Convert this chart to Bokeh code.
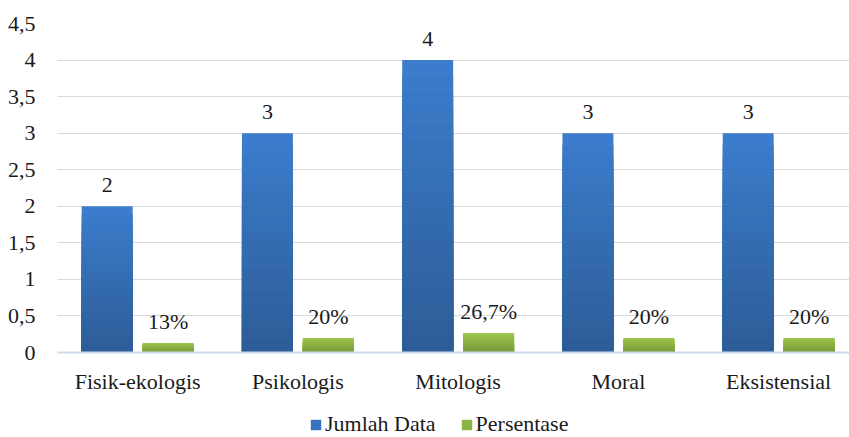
from bokeh.plotting import figure
from bokeh.layouts import column
from bokeh.models import (ColumnDataSource, FixedTicker, CustomJSTickFormatter,
                          Legend, LegendItem, Range1d)
from bokeh.embed import file_html
from bokeh.resources import INLINE
from bokeh.core.properties import value

categories = ["Fisik-ekologis", "Psikologis", "Mitologis", "Moral", "Eksistensial"]
jumlah_data = [2, 3, 4, 3, 3]
persentase = [0.13, 0.20, 0.267, 0.20, 0.20]
jumlah_labels = ["2", "3", "4", "3", "3"]
persentase_labels = ["13%", "20%", "26,7%", "20%", "20%"]
series_names = ["Jumlah Data", "Persentase"]
y_ticks = [0, 0.5, 1, 1.5, 2, 2.5, 3, 3.5, 4, 4.5]
y_tick_labels = ["0", "0,5", "1", "1,5", "2", "2,5", "3", "3,5", "4", "4,5"]

FONT = "Liberation Serif"
FS = "22px"

def lerp_color(c1, c2, t):
    a = [int(c1[i:i + 2], 16) for i in (1, 3, 5)]
    b = [int(c2[i:i + 2], 16) for i in (1, 3, 5)]
    return "#%02x%02x%02x" % tuple(round(a[j] + (b[j] - a[j]) * t) for j in range(3))

def gradient_source(vals, offset, top_color, bottom_color, steps=18):
    xs, tops, cols = [], [], []
    for k in range(steps):
        col = lerp_color(top_color, bottom_color, k / (steps - 1))
        for i, v in enumerate(vals):
            xs.append(i + 0.5 + offset)
            tops.append(v * (1 - k / steps))
            cols.append(col)
    return ColumnDataSource(dict(x=xs, top=tops, color=cols))

n = len(categories)
cat_x = [i + 0.5 for i in range(n)]

p = figure(width=849, height=400, output_backend="svg", toolbar_location=None,
           x_range=Range1d(0, 792 / 160.25), y_range=Range1d(0, 4.5),
           min_border_left=57, min_border_right=0, min_border_top=23,
           min_border_bottom=48)
p.outline_line_color = None
p.background_fill_color = "white"
p.border_fill_color = "white"

bw = 0.318
off = 0.19
BLUE_TOP, BLUE_BOT = "#3b7ccc", "#2d5d98"
GREEN_TOP, GREEN_BOT = "#9dc44c", "#789a3a"
src_b = gradient_source(jumlah_data, -off, BLUE_TOP, BLUE_BOT)
src_g = gradient_source(persentase, off, GREEN_TOP, GREEN_BOT)
p.vbar(x="x", top="top", bottom=0, width=bw, fill_color="color",
       line_color=None, source=src_b)
p.vbar(x="x", top="top", bottom=0, width=bw, fill_color="color",
       line_color=None, source=src_g)

# data labels
lab_b = ColumnDataSource(dict(x=[c - off for c in cat_x], y=jumlah_data, t=jumlah_labels))
lab_g = ColumnDataSource(dict(x=[c + off for c in cat_x], y=persentase, t=persentase_labels))
for s in (lab_b, lab_g):
    p.text(x="x", y="y", text="t", source=s, text_align="center",
           text_baseline="alphabetic", y_offset=-21,
           text_font=value(FONT), text_font_size=FS, text_color="#1a1a1a")

JS = """
const i = tk.findIndex(t => Math.abs(t - tick) < 1e-9);
return i >= 0 ? lb[i] : '';
"""

# axes
p.yaxis.ticker = FixedTicker(ticks=y_ticks)
p.yaxis.formatter = CustomJSTickFormatter(args=dict(tk=y_ticks, lb=y_tick_labels), code=JS)
p.yaxis.axis_line_color = None
p.yaxis.major_tick_line_color = None
p.yaxis.minor_tick_line_color = None
p.yaxis.major_label_standoff = 16
p.yaxis.major_label_text_font = FONT
p.yaxis.major_label_text_font_size = FS
p.yaxis.major_label_text_color = "#1a1a1a"

p.xaxis.ticker = FixedTicker(ticks=cat_x)
p.xaxis.formatter = CustomJSTickFormatter(args=dict(tk=cat_x, lb=categories), code=JS)
p.xaxis.axis_line_color = "#cfdcee"
p.xaxis.axis_line_width = 2
p.xaxis.major_tick_line_color = None
p.xaxis.minor_tick_line_color = None
p.xaxis.major_label_standoff = 10
p.xaxis.major_label_text_font = FONT
p.xaxis.major_label_text_font_size = FS
p.xaxis.major_label_text_color = "#1a1a1a"

p.xgrid.grid_line_color = None
p.ygrid.grid_line_color = "#d9d9d9"
p.ygrid.grid_line_width = 1

# legend strip
lg = figure(width=849, height=37, output_backend="svg", toolbar_location=None,
            x_range=Range1d(0, 1), y_range=Range1d(0, 1),
            x_axis_location=None, y_axis_location=None,
            min_border=0, min_border_left=0, min_border_right=0,
            min_border_top=0, min_border_bottom=0)
lg.grid.grid_line_color = None
lg.outline_line_color = None
lg.border_fill_color = "white"
r1 = lg.vbar(x=[0.5], top=[0], bottom=[0], width=0.01, fill_color="#3672bf", line_color=None)
r2 = lg.vbar(x=[0.5], top=[0], bottom=[0], width=0.01, fill_color="#8ab443", line_color=None)
legend = Legend(items=[LegendItem(label=series_names[0], renderers=[r1]),
                       LegendItem(label=series_names[1], renderers=[r2])],
                orientation="horizontal", location=(252, 0),
                label_text_font=FONT, label_text_font_size=FS, label_text_color="#1a1a1a",
                glyph_width=13, glyph_height=13, label_standoff=3, spacing=24,
                border_line_color=None, background_fill_alpha=0,
                margin=0, padding=0)
lg.add_layout(legend, "center")

open("out.html", "w").write(file_html(column(p, lg, spacing=0), INLINE))
